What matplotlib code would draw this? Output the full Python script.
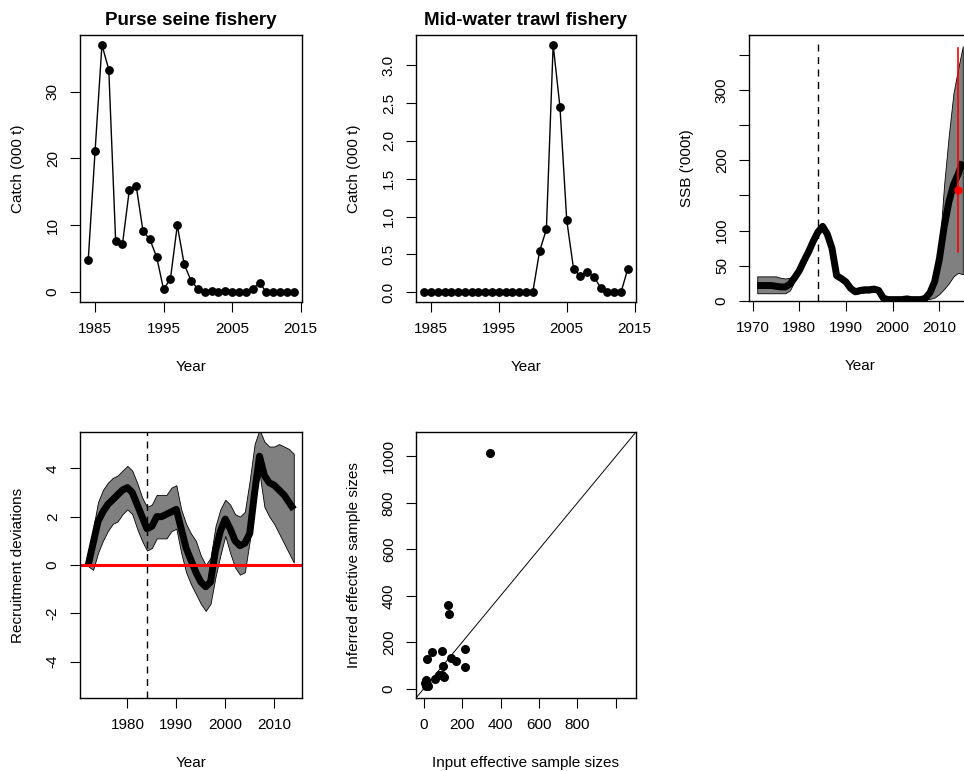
import numpy as np
import matplotlib
matplotlib.use("Agg")
import matplotlib.pyplot as plt

plt.rcParams['font.family'] = ['Liberation Sans', 'DejaVu Sans']
plt.rcParams['axes.unicode_minus'] = False

# ---- data ----
catch_years = list(range(1984, 2015))
purse_seine = [4.8, 21.1, 37.0, 33.3, 7.7, 7.2, 15.3, 15.9, 9.1, 7.9, 5.2, 0.4, 2.0,
               10.0, 4.2, 1.7, 0.5, 0.0, 0.2, 0.0, 0.2, 0.0, 0.0, 0.0, 0.5, 1.4,
               0.0, 0.0, 0.0, 0.0, 0.0]
midwater = [0.0] * 17 + [0.54, 0.83, 3.27, 2.45, 0.95, 0.31, 0.21, 0.27, 0.20, 0.06,
                         0.0, 0.0, 0.0, 0.31]

ssb_years = list(range(1971, 2016))
ssb = [22, 22, 22, 22, 21, 20, 20, 24, 33, 43, 57, 70, 85, 98, 106, 95, 75, 36, 32, 27,
       18, 13, 15, 16, 16, 17, 15, 4, 2, 2, 2, 2, 3, 2, 2, 2, 4, 12, 28, 60, 105, 140,
       165, 180, 198]
ssb_hi = [35, 35, 35, 35, 35, 33, 32, 33, 38, 48, 62, 75, 90, 103, 111, 100, 80, 40, 36, 31,
          22, 17, 19, 20, 20, 21, 19, 7, 4, 4, 4, 4, 5, 4, 4, 4, 8, 20, 40, 75, 165, 235,
          295, 330, 362]
ssb_lo = [11, 11, 11, 11, 11, 11, 11, 15, 28, 38, 52, 65, 80, 93, 101, 90, 70, 32, 28, 23,
          14, 10, 11, 12, 12, 13, 11, 2, 1, 1, 1, 1, 1, 1, 1, 1, 2, 3, 5, 10, 17, 25,
          35, 40, 38]
ssb_ref_year = 1984
ssb_obs_year = 2014
ssb_obs = 158
ssb_obs_lo = 70
ssb_obs_hi = 360

rec_years = list(range(1972, 2015))
rec_dev = [0.0, 0.9, 1.8, 2.2, 2.5, 2.7, 2.9, 3.1, 3.2, 3.0, 2.5, 2.0, 1.5, 1.6, 2.0, 2.0,
           2.1, 2.2, 2.3, 1.5, 0.7, 0.2, -0.3, -0.7, -0.9, -0.7, 0.6, 1.4, 1.9, 1.5, 1.0,
           0.8, 0.9, 1.3, 3.0, 4.5, 3.7, 3.4, 3.3, 3.1, 2.9, 2.6, 2.3]
rec_hi = [0.1, 1.5, 2.6, 3.1, 3.4, 3.6, 3.7, 3.9, 4.1, 3.9, 3.4, 2.8, 2.4, 2.5, 2.9, 2.9,
          2.9, 3.2, 3.3, 2.3, 1.7, 1.3, 1.0, 0.4, 0.0, 0.3, 1.6, 2.3, 2.7, 2.5, 2.1,
          2.0, 2.2, 3.5, 5.0, 5.6, 5.1, 4.9, 4.9, 5.0, 4.9, 4.8, 4.6]
rec_lo = [-0.05, -0.2, 0.5, 1.0, 1.4, 1.7, 1.8, 2.1, 2.3, 2.1, 1.5, 1.0, 0.6, 0.7, 1.1, 1.1,
          1.1, 1.4, 1.5, 0.5, -0.3, -0.8, -1.2, -1.6, -1.9, -1.6, -0.5, 0.4, 1.2, 0.5, -0.1,
          -0.4, -0.3, 1.0, 2.5, 3.8, 2.4, 2.0, 1.7, 1.3, 0.9, 0.5, 0.1]

input_ess = [346, 124, 132, 41, 94, 213, 19, 144, 170, 101, 213, 57, 81, 93, 107, 10, 7, 24, 12, 15]
inferred_ess = [1013, 362, 320, 158, 164, 170, 128, 131, 119, 99, 95, 40, 57, 58, 51, 36, 25, 13, 13, 20]

# ---- figure ----
W, H = 964, 771
fig = plt.figure(figsize=(W / 100, H / 100), dpi=100)


def add_ax(l, t, r, b):
    return fig.add_axes([l / W, 1 - b / H, (r - l) / W, (b - t) / H])


def style(ax):
    for s in ax.spines.values():
        s.set_linewidth(1.0)
        s.set_color('black')
    ax.tick_params(direction='out', length=7, width=0.8, labelsize=11, pad=7.5)
    for lab in ax.get_yticklabels():
        lab.set_rotation(90)
        lab.set_va('center')


def rng(lo, hi):
    d = (hi - lo) * 0.04
    return lo - d, hi + d


lab_fs = 11
title_fs = 13.5

# Panel 1
ax1 = add_ax(80, 35, 302, 302)
ax1.plot(catch_years, purse_seine, color='black', lw=1.0, marker='o', ms=5.3)
ax1.set_xlim(*rng(1984, 2014))
ax1.set_ylim(*rng(0, 37))
ax1.set_xticks([1985, 1995, 2005, 2015])
ax1.set_yticks([0, 10, 20, 30])
style(ax1)
ax1.set_title('Purse seine fishery', fontsize=title_fs, fontweight='bold', pad=7)
ax1.set_xlabel('Year', fontsize=lab_fs, labelpad=17)
ax1.set_ylabel('Catch (000 t)', fontsize=lab_fs, labelpad=15)

# Panel 2
ax2 = add_ax(416, 35, 636, 302)
ax2.plot(catch_years, midwater, color='black', lw=1.0, marker='o', ms=5.3)
ax2.set_xlim(*rng(1984, 2014))
ax2.set_ylim(*rng(0, 3.27))
ax2.set_xticks([1985, 1995, 2005, 2015])
ax2.set_yticks([0, 0.5, 1.0, 1.5, 2.0, 2.5, 3.0])
ax2.set_yticklabels(['0.0', '0.5', '1.0', '1.5', '2.0', '2.5', '3.0'])
style(ax2)
ax2.set_title('Mid-water trawl fishery', fontsize=title_fs, fontweight='bold', pad=7)
ax2.set_xlabel('Year', fontsize=lab_fs, labelpad=17)
ax2.set_ylabel('Catch (000 t)', fontsize=lab_fs, labelpad=15)

# Panel 3
ax3 = add_ax(749, 35, 971, 301)
ax3.fill_between(ssb_years, ssb_lo, ssb_hi, facecolor='#808080', edgecolor='black', lw=0.6)
ax3.plot(ssb_years, ssb, color='black', lw=5, solid_capstyle='butt')
ax3.axvline(ssb_ref_year, ymax=0.97, color='black', lw=1.0, ls=(0, (5, 4)))
ax3.plot([ssb_obs_year, ssb_obs_year], [ssb_obs_lo, ssb_obs_hi], color='red', lw=1.2)
ax3.plot([ssb_obs_year], [ssb_obs], 'o', color='red', ms=5)
ax3.set_xlim(*rng(1971, 2015))
ax3.set_ylim(0, 378)
ax3.set_xticks([1970, 1980, 1990, 2000, 2010])
ax3.set_yticks([0, 50, 100, 150, 200, 250, 300, 350])
ax3.set_yticklabels(['0', '50', '100', '', '200', '', '300', ''])
style(ax3)
ax3.set_xlabel('Year', fontsize=lab_fs, labelpad=17)
ax3.set_ylabel("SSB ('000t)", fontsize=lab_fs, labelpad=15)

# Panel 4
ax4 = add_ax(80, 432, 302, 698)
ax4.fill_between(rec_years, rec_lo, rec_hi, facecolor='#808080', edgecolor='black', lw=0.6)
ax4.plot(rec_years, rec_dev, color='black', lw=5, solid_capstyle='butt')
ax4.axhline(0, color='red', lw=2.2)
ax4.axvline(ssb_ref_year, color='black', lw=1.0, ls=(0, (5, 4)))
ax4.set_xlim(*rng(1972, 2014))
ax4.set_ylim(-5.5, 5.5)
ax4.set_xticks([1980, 1990, 2000, 2010])
ax4.set_yticks([-4, -2, 0, 2, 4])
style(ax4)
ax4.set_xlabel('Year', fontsize=lab_fs, labelpad=17)
ax4.set_ylabel('Recruitment deviations', fontsize=lab_fs, labelpad=15)

# Panel 5
ax5 = add_ax(416, 432, 636, 698)
ax5.scatter(input_ess, inferred_ess, s=30, color='black', zorder=3)
lim = (-40, 1105)
ax5.plot(lim, lim, color='black', lw=0.7)
ax5.set_xlim(*lim)
ax5.set_ylim(*lim)
ax5.set_xticks([0, 200, 400, 600, 800, 1000])
ax5.set_xticklabels(['0', '200', '400', '600', '800', ''])
ax5.set_yticks([0, 200, 400, 600, 800, 1000])
style(ax5)
ax5.set_xlabel('Input effective sample sizes', fontsize=lab_fs, labelpad=17)
ax5.set_ylabel('Inferred effective sample sizes', fontsize=lab_fs, labelpad=15)

fig.savefig('out.png', dpi=100)
